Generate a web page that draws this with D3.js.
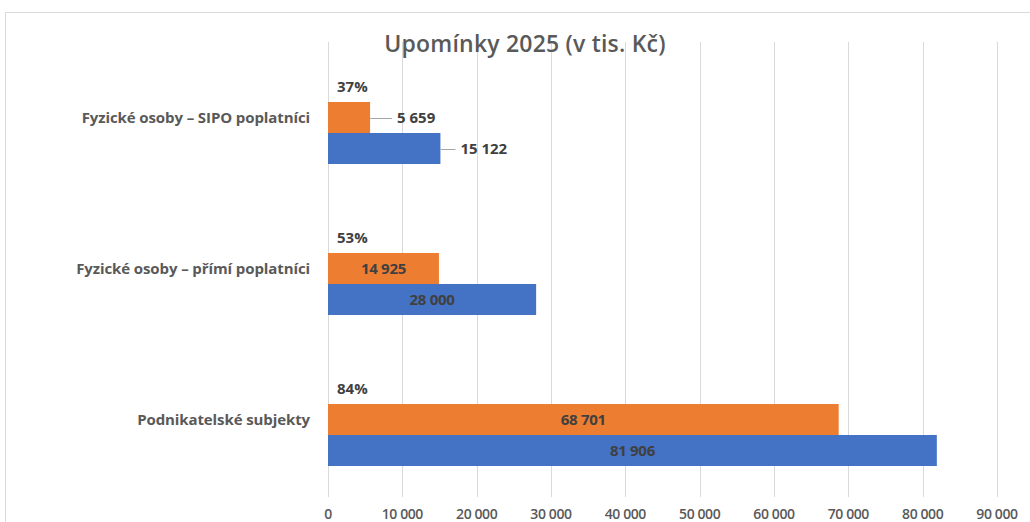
<!DOCTYPE html>
<html>
<head>
<meta charset="utf-8">
<script src="https://cdn.jsdelivr.net/npm/d3@7"></script>
<style>
  body { margin: 0; background: #fff; }
  #chart { display: block; }
  text { font-family: "Open Sans", sans-serif; }
</style>
</head>
<body>
<svg id="chart" width="1030" height="522"></svg>
<script>
  const title = 'Upomínky 2025 (v tis. Kč)';
  const categories = ['Fyzické osoby – SIPO poplatníci', 'Fyzické osoby – přímí poplatníci', 'Podnikatelské subjekty'];
  const paid = [5659, 14925, 68701];
  const total = [15122, 28000, 81906];
  const shareLabels = ['37%', '53%', '84%'];
  const xTicks = [0, 10000, 20000, 30000, 40000, 50000, 60000, 70000, 80000, 90000];

  const svg = d3.select('#chart');
  const fmt = v => d3.format(',')(v).replace(/,/g, '\u00a0');

  // chart frame (runs off the right/bottom edge like the screenshot)
  svg.append('rect')
     .attr('x', 5.5).attr('y', 12.5)
     .attr('width', 1040).attr('height', 530)
     .attr('fill', '#fff')
     .attr('stroke', '#d9d9d9');

  const x = d3.scaleLinear().domain([0, 90000]).range([328, 997]);
  const y = d3.scaleBand().domain(categories).range([42, 495])
              .paddingInner(0.384).paddingOuter(0.192);
  const sub = d3.scaleBand().domain(['share', 'paid', 'total']).range([0, y.bandwidth()]);

  // gridlines
  svg.append('g').selectAll('line')
     .data(xTicks)
     .enter().append('line')
     .attr('x1', d => Math.round(x(d)) + 0.5)
     .attr('x2', d => Math.round(x(d)) + 0.5)
     .attr('y1', 42).attr('y2', 497)
     .attr('stroke', '#d9d9d9');

  // x axis labels
  svg.append('g').selectAll('text')
     .data(xTicks)
     .enter().append('text')
     .attr('x', d => x(d))
     .attr('y', 519)
     .attr('text-anchor', 'middle')
     .attr('font-size', 14)
     .attr('font-weight', 600)
     .attr('fill', '#595959')
     .attr('letter-spacing', -0.4)
     .text(d => fmt(d));

  // category labels
  svg.append('g').selectAll('text')
     .data(categories)
     .enter().append('text')
     .attr('x', 310)
     .attr('y', d => y(d) + y.bandwidth() / 2)
     .attr('dy', '0.35em')
     .attr('text-anchor', 'end')
     .attr('font-size', 15)
     .attr('font-weight', 700)
     .attr('fill', '#595959')
     .attr('letter-spacing', -0.1)
     .text(d => d);

  const rows = categories.map((c, i) => ({ c, paid: paid[i], total: total[i], share: shareLabels[i], i }));

  const bars = [];
  rows.forEach(r => {
    bars.push({ c: r.c, key: 'paid', v: r.paid, color: '#ED7D31', i: r.i });
    bars.push({ c: r.c, key: 'total', v: r.total, color: '#4472C4', i: r.i });
  });

  svg.append('g').selectAll('rect')
     .data(bars)
     .enter().append('rect')
     .attr('x', x(0))
     .attr('y', d => y(d.c) + sub(d.key))
     .attr('width', d => x(d.v) - x(0))
     .attr('height', sub.bandwidth())
     .attr('fill', d => d.color);

  // value labels: first category outside with leader lines, others centred
  const lab = svg.append('g');
  bars.forEach(d => {
    const cy = y(d.c) + sub(d.key) + sub.bandwidth() / 2;
    if (d.i === 0) {
      const lineLen = d.key === 'paid' ? 22 : 15;
      lab.append('line')
         .attr('x1', x(d.v)).attr('x2', x(d.v) + lineLen)
         .attr('y1', Math.round(cy) + 0.5).attr('y2', Math.round(cy) + 0.5)
         .attr('stroke', '#a6a6a6');
      lab.append('text')
         .attr('x', x(d.v) + lineLen + 5)
         .attr('y', cy).attr('dy', '0.35em')
         .attr('font-size', 15).attr('font-weight', 700)
         .attr('fill', '#404040')
         .text(fmt(d.v));
    } else {
      lab.append('text')
         .attr('x', (x(0) + x(d.v)) / 2)
         .attr('y', cy).attr('dy', '0.35em')
         .attr('text-anchor', 'middle')
         .attr('font-size', 15).attr('font-weight', 700)
         .attr('fill', '#404040')
         .attr('letter-spacing', -0.3)
         .text(fmt(d.v));
    }
  });

  // share labels above the bars
  lab.selectAll('.share')
     .data(rows)
     .enter().append('text')
     .attr('class', 'share')
     .attr('x', x(0) + 9)
     .attr('y', d => y(d.c) + sub('share') + sub.bandwidth() / 2)
     .attr('dy', '0.35em')
     .attr('font-size', 15).attr('font-weight', 700)
     .attr('fill', '#404040')
     .text(d => d.share);

  // title
  svg.append('text')
     .attr('x', 525).attr('y', 44)
     .attr('dy', '0.35em')
     .attr('text-anchor', 'middle')
     .attr('font-size', 23)
     .attr('font-weight', 600)
     .attr('fill', '#595959')
     .attr('letter-spacing', 0.2)
     .text(title);
</script>
</body>
</html>
